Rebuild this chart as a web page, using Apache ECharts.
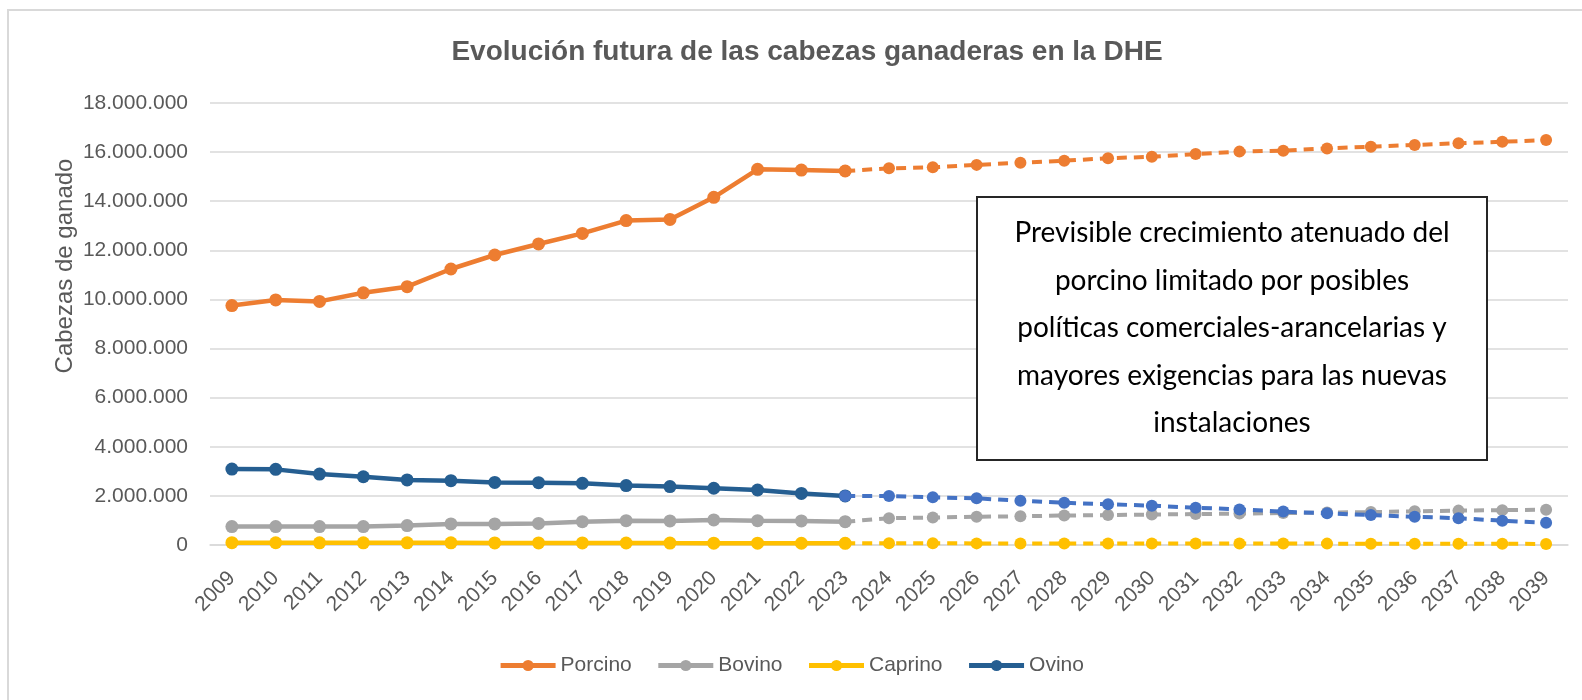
<!DOCTYPE html>
<html lang="es">
<head>
<meta charset="UTF-8">
<title>Evolución futura de las cabezas ganaderas en la DHE</title>
<script src="https://cdn.jsdelivr.net/npm/echarts@6/dist/echarts.min.js"></script>
<style>
  html, body { margin: 0; padding: 0; background: #fff; }
  #main { width: 1582px; height: 700px; }
</style>
</head>
<body>
<div id="main"></div>
<script>
// años
var years = ['2009','2010','2011','2012','2013','2014','2015','2016','2017','2018','2019','2020','2021','2022','2023',
             '2024','2025','2026','2027','2028','2029','2030','2031','2032','2033','2034','2035','2036','2037','2038','2039'];

// datos históricos 2009-2023
var porcinoHist = [9750000, 9980000, 9920000, 10270000, 10520000, 11240000, 11810000, 12260000, 12690000, 13210000, 13260000, 14160000, 15300000, 15270000, 15230000];
var bovinoHist  = [750000, 750000, 750000, 750000, 790000, 860000, 860000, 880000, 950000, 990000, 980000, 1020000, 990000, 980000, 950000];
var caprinoHist = [95000, 92000, 90000, 88000, 88000, 87000, 86000, 85000, 84000, 82000, 78000, 76000, 74000, 72000, 70000];
var ovinoHist   = [3090000, 3080000, 2890000, 2780000, 2650000, 2620000, 2550000, 2540000, 2510000, 2420000, 2380000, 2310000, 2240000, 2100000, 2000000];

// previsión 2024-2039
var porcinoProj = [15340000, 15380000, 15480000, 15570000, 15650000, 15750000, 15810000, 15920000, 16020000, 16060000, 16150000, 16220000, 16290000, 16360000, 16420000, 16490000];
var bovinoProj  = [1090000, 1120000, 1150000, 1170000, 1200000, 1220000, 1240000, 1260000, 1280000, 1300000, 1320000, 1340000, 1370000, 1400000, 1420000, 1440000];
var caprinoProj = [68000, 67000, 66000, 65000, 64000, 63000, 62000, 61000, 60000, 58000, 56000, 54000, 52000, 50000, 48000, 45000];
var ovinoProj   = [2000000, 1940000, 1900000, 1800000, 1720000, 1660000, 1600000, 1520000, 1450000, 1360000, 1290000, 1220000, 1150000, 1090000, 990000, 910000];

var yTicks = { min: 0, max: 18000000, interval: 2000000 };

function histData(arr) {
    return arr.concat(new Array(years.length - arr.length).fill(null));
}
function projData(hist, proj) {
    var d = new Array(hist.length - 1).fill(null);
    d.push(hist[hist.length - 1]);
    return d.concat(proj);
}
function fmt(v) {
    return String(v).replace(/\B(?=(\d{3})+(?!\d))/g, '.');
}

function solid(name, color, data, z) {
    return {
        name: name, type: 'line', data: data, z: z,
        symbol: 'circle', symbolSize: 13,
        itemStyle: { color: color },
        lineStyle: { color: color, width: 4.5 },
        connectNulls: false
    };
}
function dashed(name, color, data, z) {
    return {
        name: name, type: 'line', data: data, z: z,
        symbol: 'circle', symbolSize: 12,
        itemStyle: { color: color },
        lineStyle: { color: color, width: 4, type: [10, 7] },
        connectNulls: false
    };
}

var myChart = echarts.init(document.getElementById('main'));
myChart.setOption({
    animation: false,
    textStyle: { fontFamily: 'Liberation Sans' },
    title: {
        text: 'Evolución futura de las cabezas ganaderas en la DHE',
        left: 802, top: 33, textAlign: 'center',
        textStyle: { fontSize: 28, fontWeight: 'bold', color: '#595959', fontFamily: 'Liberation Sans' }
    },
    legend: {
        data: ['Porcino', 'Bovino', 'Caprino', 'Ovino'],
        bottom: 19, left: 'center',
        itemWidth: 55, itemHeight: 14, itemGap: 24,
        lineStyle: { width: 5 },
        textStyle: { fontSize: 21, color: '#595959' }
    },
    grid: { left: 210, right: 14, top: 103, bottom: 155 },
    xAxis: {
        type: 'category',
        data: years,
        axisLine: { lineStyle: { color: '#d9d9d9', width: 1.5 } },
        axisTick: { show: false },
        axisLabel: { rotate: 45, fontSize: 21, color: '#595959', margin: 30, interval: 0 }
    },
    yAxis: {
        type: 'value',
        min: yTicks.min, max: yTicks.max, interval: yTicks.interval,
        axisLine: { show: false },
        axisTick: { show: false },
        splitLine: { lineStyle: { color: '#d9d9d9', width: 1.5 } },
        axisLabel: { fontSize: 21, color: '#595959', margin: 22, formatter: fmt }
    },
    graphic: [
        { type: 'rect', shape: { x: 8, y: 10, width: 1600, height: 720 }, style: { fill: 'none', stroke: '#d9d9d9', lineWidth: 2 }, silent: true },
        { type: 'text', x: 65, y: 266, rotation: Math.PI / 2,
          style: { text: 'Cabezas de ganado', fill: '#595959', fontSize: 24, fontFamily: 'Liberation Sans', align: 'center', verticalAlign: 'middle' } },
        { type: 'rect', z: 100, shape: { x: 977, y: 197, width: 510, height: 263 }, style: { fill: '#fff', stroke: '#262626', lineWidth: 2 } },
        { type: 'text', z: 101, x: 1232, y: 328,
          style: {
              text: 'Previsible crecimiento atenuado del\nporcino limitado por posibles\npolíticas comerciales-arancelarias y\nmayores exigencias para las nuevas\ninstalaciones',
              fill: '#000', fontSize: 28, fontFamily: 'Lato', lineHeight: 47.5, align: 'center', verticalAlign: 'middle'
          } }
    ],
    series: [
        solid('Porcino', '#ED7D31', histData(porcinoHist), 10),
        solid('Bovino', '#A5A5A5', histData(bovinoHist), 6),
        solid('Caprino', '#FFC000', histData(caprinoHist), 4),
        solid('Ovino', '#255E91', histData(ovinoHist), 8),
        dashed('Porcino', '#ED7D31', projData(porcinoHist, porcinoProj), 11),
        dashed('Bovino', '#A5A5A5', projData(bovinoHist, bovinoProj), 7),
        dashed('Caprino', '#FFC000', projData(caprinoHist, caprinoProj), 5),
        dashed('Ovino', '#4472C4', projData(ovinoHist, ovinoProj), 9)
    ]
});
</script>
</body>
</html>
